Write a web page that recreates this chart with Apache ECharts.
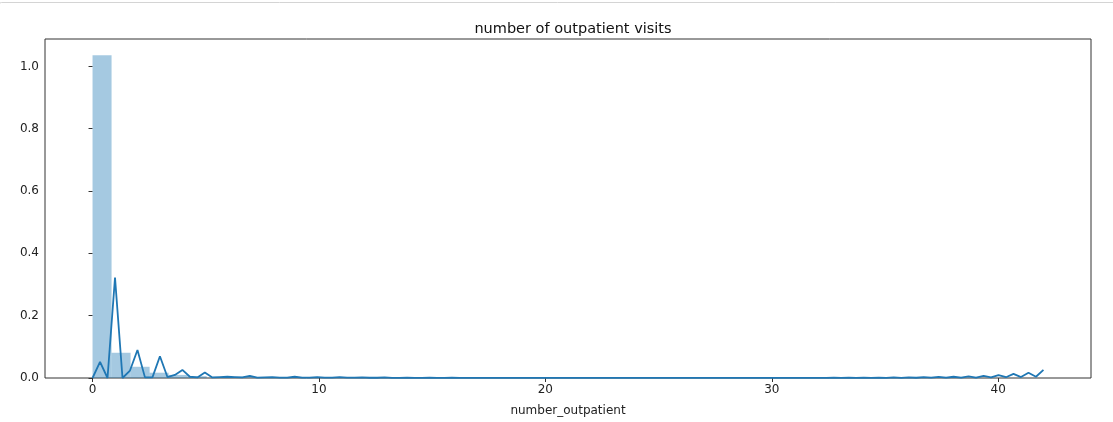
<!DOCTYPE html>
<html>
<head>
<meta charset="utf-8">
<script src="https://cdn.jsdelivr.net/npm/echarts@6/dist/echarts.min.js"></script>
<style>
  html, body { margin: 0; padding: 0; background: #fff; }
  #chart { width: 1113px; height: 422px; }
</style>
</head>
<body>
<div id="chart"></div>
<script>
// histogram: 50 bins over [0, 42], density heights
const histRange = [0, 42];
const binHeights = [
  1.036, 0.081, 0.036, 0.017, 0.010, 0.006, 0, 0.004, 0.003, 0.002,
  0.0015, 0.001, 0, 0.0008, 0.0006, 0.0005, 0.0004, 0.0003, 0, 0.0002,
  0.0002, 0.0001, 0.0001, 0, 0.0001, 0.0001, 0, 0.0001, 0.0001, 0,
  0.0001, 0.0001, 0, 0.0001, 0.0001, 0.0001, 0, 0.0001, 0.0001, 0.0001,
  0, 0.0001, 0.0001, 0.0001, 0.0001, 0.0001, 0, 0.0001, 0.0001, 0.0001
];

// kde curve: evaluated on 128 grid points over [0, 42]
const kdeRange = [0, 42];
const kdeValues = [
  0, 0.052, 0, 0.322, 0, 0.024, 0.090, 0.002, 0.002, 0.070,
  0.003, 0.010, 0.026, 0.004, 0.002, 0.018, 0.002, 0.003, 0.004, 0.003,
  0.002, 0.007, 0.001, 0.002, 0.003, 0.001, 0.001, 0.004, 0.001, 0.001,
  0.003, 0.001, 0.001, 0.003, 0.001, 0.001, 0.002, 0.0008, 0.0008, 0.002,
  0.0006, 0.0006, 0.0015, 0.0005, 0.0005, 0.0012, 0.0004, 0.0004, 0.0008, 0.0003,
  0.0003, 0.0006, 0.0003, 0.0003, 0.0004, 0.0003, 0.0003, 0.0003, 0.0003, 0.0003,
  0.0003, 0.0003, 0.0003, 0.0003, 0.0003, 0.0003, 0.0003, 0.0003, 0.0003, 0.0003,
  0.0003, 0.0003, 0.0003, 0.0003, 0.0003, 0.0003, 0.0003, 0.0003, 0.0003, 0.0003,
  0.0003, 0.0003, 0.0003, 0.0003, 0.0003, 0.0003, 0.0003, 0.0003, 0.0003, 0.0003,
  0.0003, 0.0004, 0.0003, 0.0005, 0.0003, 0.0006, 0.0003, 0.0007, 0.0004, 0.0008,
  0.0004, 0.001, 0.0005, 0.0012, 0.0005, 0.0015, 0.0006, 0.0018, 0.0007, 0.0022,
  0.0008, 0.0027, 0.0009, 0.0033, 0.001, 0.004, 0.0012, 0.005, 0.0015, 0.0065,
  0.002, 0.0095, 0.0025, 0.013, 0.003, 0.017, 0.004, 0.026
];

const xTicks = [0, 10, 20, 30, 40];
const yTicks = [0, 0.2, 0.4, 0.6, 0.8, 1.0];

const binWidth = (histRange[1] - histRange[0]) / binHeights.length;
const histData = binHeights.map((h, i) => [
  histRange[0] + i * binWidth,
  histRange[0] + (i + 1) * binWidth,
  h
]);
const kdeStep = (kdeRange[1] - kdeRange[0]) / (kdeValues.length - 1);
const kdeData = kdeValues.map((v, i) => [kdeRange[0] + i * kdeStep, v]);

const chart = echarts.init(document.getElementById("chart"), null, { renderer: "canvas" });
const font = "DejaVu Sans";

chart.setOption({
  animation: false,
  backgroundColor: "#fff",
  title: {
    text: "number of outpatient visits",
    left: 568,
    top: 17,
    textAlign: "center",
    textStyle: { fontFamily: font, fontSize: 14.5, fontWeight: "normal", color: "#111" }
  },
  graphic: [
    {
      // notebook output frame, only its top edge shows
      type: "rect",
      silent: true,
      shape: { x: -1.5, y: 2.5, width: 1130, height: 600, r: 3 },
      style: { fill: null, stroke: "#d4d4d4", lineWidth: 1 }
    }
  ],
  grid: {
    left: 45, right: 22, top: 39, bottom: 44,
    show: true, borderColor: "#333", borderWidth: 1, backgroundColor: "transparent"
  },
  xAxis: {
    type: "value",
    min: -2.1,
    max: 44.1,
    name: "number_outpatient",
    nameLocation: "middle",
    nameGap: 27,
    nameTextStyle: { fontFamily: font, fontSize: 12, color: "#222" },
    axisLine: { show: false },
    splitLine: { show: false },
    axisTick: { show: true, length: 4, customValues: xTicks, lineStyle: { color: "#333" } },
    axisLabel: { customValues: xTicks, margin: 6, fontFamily: font, fontSize: 12, color: "#222" }
  },
  yAxis: {
    type: "value",
    min: 0,
    max: 1.088,
    axisLine: { show: false },
    splitLine: { show: false },
    axisTick: { show: true, length: 4, customValues: yTicks, lineStyle: { color: "#333" } },
    axisLabel: {
      customValues: yTicks, margin: 6, fontFamily: font, fontSize: 12, color: "#222",
      formatter: v => v.toFixed(1)
    }
  },
  series: [
    {
      type: "custom",
      name: "hist",
      data: histData,
      encode: { x: [0, 1], y: 2 },
      renderItem(params, api) {
        const p0 = api.coord([api.value(0), api.value(2)]);
        const p1 = api.coord([api.value(1), 0]);
        return {
          type: "rect",
          shape: { x: p0[0], y: p0[1], width: p1[0] - p0[0], height: p1[1] - p0[1] },
          style: { fill: "rgba(31,119,180,0.4)" }
        };
      }
    },
    {
      type: "line",
      name: "kde",
      data: kdeData,
      symbol: "none",
      lineStyle: { color: "#1f77b4", width: 1.8 },
      z: 3
    }
  ]
});
</script>
</body>
</html>
